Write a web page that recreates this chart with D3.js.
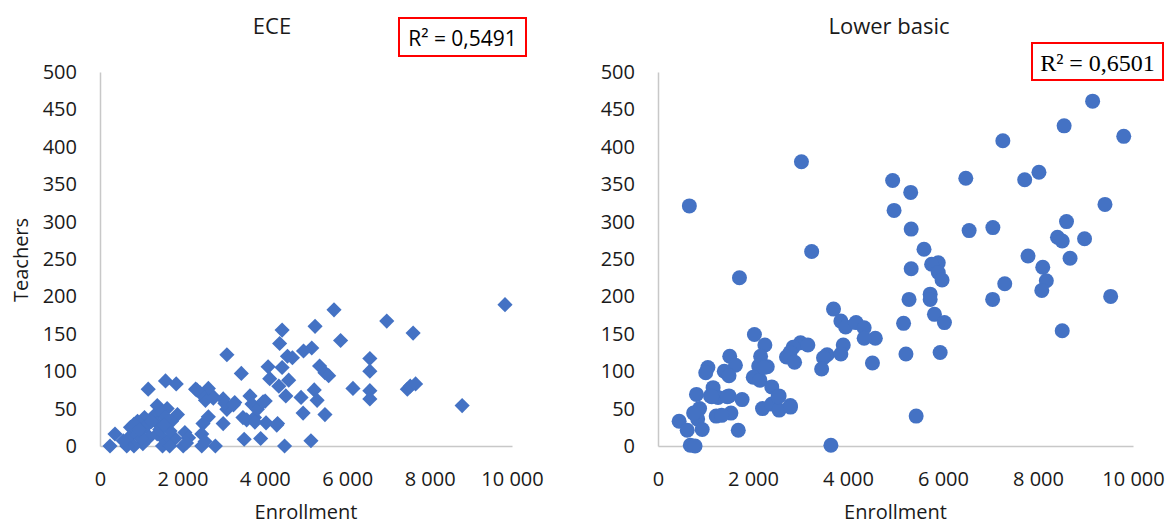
<!DOCTYPE html>
<html>
<head>
<meta charset="utf-8">
<script src="https://cdn.jsdelivr.net/npm/d3@7"></script>
<style>
  body { margin: 0; background: #fff; }
</style>
</head>
<body>
<script>
// ECE: enrollment vs teachers
var eceEnroll = [9830,5680,6960,5220,7600,4420,4360,5840,5140,4940,3080,4550,4670,6550,6550,5330,5460,5550,4080,4420,
  3430,4120,4580,4340,6140,6550,6550,7460,7530,7660,8790,5200,5270,4880,4510,4930,5460,5120,4480,4310,
  4030,3900,3500,3750,3640,3470,3690,4010,3820,3270,3080,2990,2990,2800,2730,2630,2560,2320,2430,2630,
  2500,2470,2470,2060,2150,2020,1850,1590,1170,1390,1630,1880,1735,1300,1080,910,740,824,997,1127,
  1388,1518,1648,1822,1518,1691,1041,824,650,243,364,694,564,2350,2750,3030,3240,2550,2100,3960,
  3560,3760,4290,1400,1500,1600,900,1200,1450,1700,1000,1250,950,1550];
var eceTeachers = [189,182,167,160,151,155,137,141,131,127,122,120,118,117,100,107,98,94,106,105,
  97,90,88,80,77,74,63,76,80,83,54,75,61,65,67,44,42,7,0,30,
  31,10,9,38,67,38,56,60,49,58,49,63,30,0,67,77,61,76,71,39,
  30,16,0,18,11,0,83,87,76,54,50,42,33,40,38,33,25,29,20,27,
  16,11,7,10,0,0,3,0,0,0,16,11,7,75,64,57,55,6,4,59,
  35,32,28,30,45,38,15,12,22,20,10,33,22,28];

// Lower basic: enrollment vs teachers
var lbEnroll = [9150,8550,9805,7260,3020,8020,7720,6480,4940,5320,9410,660,4970,8600,5330,6550,7050,8410,8510,8980,
  3235,5600,7790,8675,5900,5760,5330,8100,1715,5900,5980,8175,7300,8080,5730,5730,5285,7045,9530,3695,
  5820,3850,6030,5170,3950,4170,4340,2030,8510,4575,4340,2250,3000,3155,2845,3900,2780,2705,5940,5220,
  3560,3485,3850,2875,1510,2160,4515,3445,1050,1005,1630,1395,1495,2120,2300,2005,2145,2395,2550,810,
  1160,1105,1265,1495,1770,875,2785,2200,2395,2550,1535,1225,835,445,615,930,1690,5435,680,780,
  3640,1130,1460,1340,2230,2530,2790,750];
var lbTeachers = [461,428,414,408,380,366,356,358,355,339,323,321,315,300,290,288,292,279,274,277,
  260,263,254,251,245,243,237,239,225,232,222,221,217,208,203,196,196,196,200,183,
  176,167,165,164,159,165,158,149,154,144,144,135,138,135,132,135,125,119,125,123,
  122,118,123,112,120,120,111,103,105,98,108,100,94,107,106,92,88,79,67,69,
  78,67,65,67,62,50,54,50,56,48,44,40,36,33,21,22,21,40,1,0,
  1,66,66,41,105,66,52,44];

var xTicks = [0, 2000, 4000, 6000, 8000, 10000];
var xTickLabels = ['0', '2 000', '4 000', '6 000', '8 000', '10 000'];
var yTicks = [0, 50, 100, 150, 200, 250, 300, 350, 400, 450, 500];
var titles = ['ECE', 'Lower basic'];
var r2Labels = ['R\u00b2 = 0,5491', 'R\u00b2 = 0,6501'];

var width = 1171, height = 525;
var blue = '#4472c4';
var sans = '"Open Sans", sans-serif';

var svg = d3.select('body').append('svg')
  .attr('width', width)
  .attr('height', height)
  .attr('font-family', sans);

var y = d3.scaleLinear().domain([0, 500]).range([446, 72]);

var panels = [
  { x0: 100, x1: 512, title: titles[0], tx: 272, xs: eceEnroll, ys: eceTeachers, shape: 'diamond',
    r2: r2Labels[0], box: [399, 18, 127, 38], r2font: sans, r2size: 21 },
  { x0: 658, x1: 1133, title: titles[1], tx: 889, xs: lbEnroll, ys: lbTeachers, shape: 'circle',
    r2: r2Labels[1], box: [1032, 43, 131, 37], r2font: '"Liberation Serif", "Times New Roman", serif', r2size: 24 }
];

panels.forEach(function(p) {
  var x = d3.scaleLinear().domain([0, 10000]).range([p.x0, p.x1]);
  var g = svg.append('g');

  // axes
  var xAxis = d3.axisBottom(x).tickValues(xTicks)
    .tickFormat(function(d, i) { return xTickLabels[i]; })
    .tickSize(0).tickSizeOuter(0).tickPadding(26);
  var ga = g.append('g').attr('transform', 'translate(0,' + y(0) + ')').call(xAxis);

  var yAxis = d3.axisLeft(y).tickValues(yTicks)
    .tickSize(0).tickSizeOuter(0).tickPadding(23);
  var gy = g.append('g').attr('transform', 'translate(' + p.x0 + ',0)').call(yAxis);

  [ga, gy].forEach(function(a) {
    a.attr('font-family', sans).attr('font-size', 20);
    a.select('.domain').attr('stroke', '#c8c8c8').attr('stroke-width', 1.5);
    a.selectAll('text').attr('fill', '#1a1a1a');
  });

  // points
  var pts = d3.range(p.xs.length).map(function(i) { return [p.xs[i], p.ys[i]]; });
  if (p.shape === 'diamond') {
    var sym = d3.symbol().type(d3.symbolSquare).size(115);
    g.selectAll('path.pt').data(pts).enter().append('path')
      .attr('class', 'pt')
      .attr('d', sym)
      .attr('transform', function(d) { return 'translate(' + x(d[0]) + ',' + y(d[1]) + ') rotate(45)'; })
      .attr('fill', blue);
  } else {
    g.selectAll('circle.pt').data(pts).enter().append('circle')
      .attr('class', 'pt')
      .attr('cx', function(d) { return x(d[0]); })
      .attr('cy', function(d) { return y(d[1]); })
      .attr('r', 7.5)
      .attr('fill', blue);
  }

  // titles
  g.append('text')
    .attr('x', p.tx).attr('y', 25)
    .attr('text-anchor', 'middle').attr('dominant-baseline', 'central')
    .attr('font-size', '22px').attr('fill', '#1a1a1a')
    .text(p.title);

  g.append('text')
    .attr('x', (p.x0 + p.x1) / 2).attr('y', 511)
    .attr('text-anchor', 'middle').attr('dominant-baseline', 'central')
    .attr('font-size', '20px').attr('fill', '#1a1a1a')
    .text('Enrollment');

  // R² box
  g.append('rect')
    .attr('x', p.box[0]).attr('y', p.box[1])
    .attr('width', p.box[2]).attr('height', p.box[3])
    .attr('fill', 'none').attr('stroke', '#ff0000').attr('stroke-width', 2);
  g.append('text')
    .attr('x', p.box[0] + p.box[2] / 2).attr('y', p.box[1] + p.box[3] / 2 + 1)
    .attr('text-anchor', 'middle').attr('dominant-baseline', 'central')
    .attr('font-family', p.r2font)
    .attr('font-size', p.r2size + 'px').attr('fill', '#000')
    .text(p.r2);
});

svg.append('text')
  .attr('transform', 'translate(20,260) rotate(-90)')
  .attr('text-anchor', 'middle').attr('dominant-baseline', 'central')
  .attr('font-size', '20px').attr('fill', '#1a1a1a')
  .text('Teachers');
</script>
</body>
</html>
